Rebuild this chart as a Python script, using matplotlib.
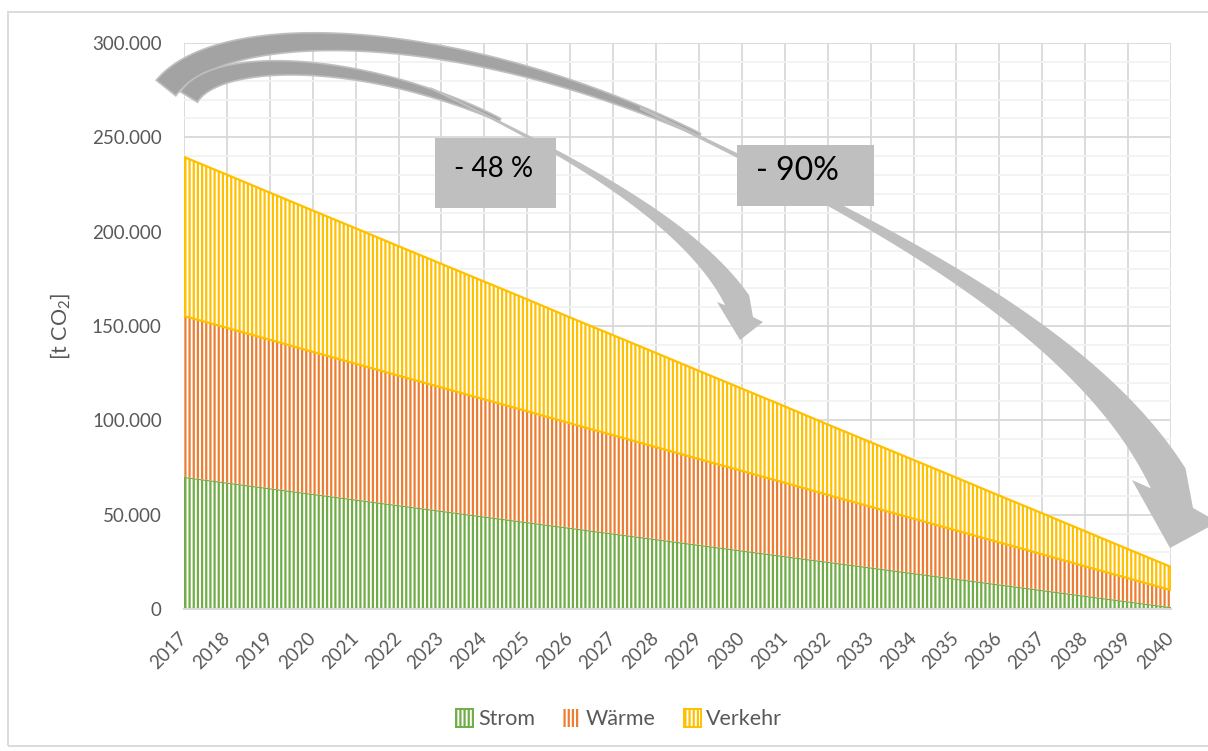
import numpy as np
import matplotlib
matplotlib.use("Agg")
import matplotlib.pyplot as plt
from matplotlib.patches import Polygon, Rectangle, Patch
from matplotlib.ticker import MultipleLocator, FuncFormatter

# CO2 emissions per sector, tonnes per year
years = list(range(2017, 2041))
strom = [70000, 67000, 64000, 61000, 58000, 55000, 52000, 49000, 46000, 43000, 40000, 37000,
         34000, 31000, 28000, 25000, 22000, 19000, 16000, 13000, 10000, 7000, 4000, 1000]
waerme = [85300, 82000, 78700, 75300, 72000, 68700, 65400, 62100, 58800, 55400, 52100, 48800,
          45500, 42200, 38900, 35500, 32200, 28900, 25600, 22300, 19000, 15600, 12300, 9000]
verkehr = [84300, 81200, 78000, 74900, 71800, 68600, 65500, 62400, 59300, 56100, 53000, 49900,
           46700, 43600, 40500, 37300, 34200, 31100, 28000, 24800, 21700, 18600, 15400, 12300]
series_names = ["Strom", "Wärme", "Verkehr"]
colors = ["#70ad47", "#ed7d31", "#ffc000"]
outlined = [True, False, True]

W, H = 1208, 751
plt.rcParams["font.family"] = ["Lato", "DejaVu Sans"]
plt.rcParams["mathtext.default"] = "regular"
plt.rcParams["hatch.linewidth"] = 1.6
grey_txt = "#595959"

fig = plt.figure(figsize=(W / 100, H / 100), dpi=100)
ax = fig.add_axes([184 / W, 1 - 609 / H, (1171 - 184) / W, (609 - 43) / H])

x = np.arange(len(years))
base = np.zeros(len(years))
for vals, name, col, edge in zip([strom, waerme, verkehr], series_names, colors, outlined):
    top = base + np.array(vals)
    ax.fill_between(x, base, top, facecolor="white", edgecolor=col, hatch="||||",
                    linewidth=1.6 if edge else 0, zorder=2)
    base = top

ax.set_xlim(0, len(years) - 1)
ax.set_ylim(0, 300000)
ax.yaxis.set_major_locator(MultipleLocator(50000))
ax.yaxis.set_minor_locator(MultipleLocator(10000))
ax.yaxis.set_major_formatter(FuncFormatter(lambda v, p: f"{v:,.0f}".replace(",", ".")))
ax.set_xticks(x)
ax.set_xticklabels([str(y) for y in years], rotation=45, ha="right", va="center",
                   rotation_mode="anchor")
ax.tick_params(axis="x", length=0, pad=19, labelsize=13.5, labelcolor=grey_txt)
ax.tick_params(axis="y", which="both", length=0, pad=16, labelsize=13.5, labelcolor=grey_txt)
ax.grid(True, which="major", color="#d9d9d9", linewidth=1.3)
ax.grid(True, which="minor", axis="y", color="#f2f2f2", linewidth=1.3)
ax.set_axisbelow(True)
for side in ["top", "left", "right"]:
    ax.spines[side].set_visible(False)
ax.spines["bottom"].set_color("#d9d9d9")
ax.spines["bottom"].set_linewidth(1.5)
ax.set_ylabel("[t CO$_2$]", fontsize=15.5, color=grey_txt, labelpad=14)

handles = [Patch(facecolor="white", edgecolor=c, hatch="||||", linewidth=1.4 if e else 0)
           for c, e in zip(colors, outlined)]
ax.legend(handles, series_names, loc="center", bbox_to_anchor=(619 / W, 1 - 719 / H),
          bbox_transform=fig.transFigure, ncol=3, frameon=False, fontsize=15.5,
          handlelength=0.8, handleheight=0.9, handletextpad=0.25, columnspacing=1.3,
          labelcolor=grey_txt)


# --- curved arrows, built in pixel coordinates (origin top left) ---
def to_fig(xy):
    xy = np.asarray(xy, float)
    return np.column_stack([xy[:, 0] / W, 1 - xy[:, 1] / H])


def bezier_band(ctrl, width_fn, n=160):
    p0, p1, p2, p3 = [np.array(p, float) for p in ctrl]
    t = np.linspace(0, 1, n)[:, None]
    c = ((1 - t) ** 3 * p0 + 3 * (1 - t) ** 2 * t * p1
         + 3 * (1 - t) * t ** 2 * p2 + t ** 3 * p3)
    d = (3 * (1 - t) ** 2 * (p1 - p0) + 6 * (1 - t) * t * (p2 - p1)
         + 3 * t ** 2 * (p3 - p2))
    d /= np.linalg.norm(d, axis=1)[:, None]
    nrm = np.column_stack([-d[:, 1], d[:, 0]])
    w = width_fn(t[:, 0])[:, None]
    return c + nrm * w / 2, c - nrm * w / 2


def curved_arrow(back_ctrl, back_w, front_ctrl, front_w, head):
    left, right = bezier_band(back_ctrl, back_w)
    fig.add_artist(Polygon(to_fig(np.vstack([left, right[::-1]])), closed=True,
                           facecolor="#a3a3a3", edgecolor="#bfbfbf", linewidth=1.2,
                           transform=fig.transFigure, zorder=5))
    left, right = bezier_band(front_ctrl, front_w)
    shape = np.vstack([left, head, right[::-1]])
    fig.add_artist(Polygon(to_fig(shape), closed=True, facecolor="#bfbfbf",
                           edgecolor="none", transform=fig.transFigure, zorder=5))


# large arrow (-90%)
curved_arrow(
    [(166, 88), (220, 20), (450, 20), (700, 135)],
    lambda t: 3 + 22 * (1 - t) ** 0.7,
    [(640, 108), (850, 210), (1080, 320), (1168, 478)],
    lambda t: 3 + 37 * t ** 1.8,
    [(1150, 488), (1132, 480), (1170, 548), (1218, 522), (1193, 508)],
)

# small arrow (-48 %)
curved_arrow(
    [(189, 97), (215, 55), (360, 55), (500, 120)],
    lambda t: 3 + 17 * (1 - t) ** 0.7,
    [(430, 88), (560, 150), (690, 220), (738, 302)],
    lambda t: 2 + 24 * t ** 2,
    [(727, 306), (717, 302), (740, 340), (763, 322), (753, 317)],
)

# label boxes
for (x0, y0, x1, y1), tx, label, size in [((435, 138, 556, 208), 494, "- 48 %", 20),
                                          ((737, 145, 874, 206), 797, "- 90%", 23)]:
    fig.add_artist(Rectangle((x0 / W, 1 - y1 / H), (x1 - x0) / W, (y1 - y0) / H,
                             facecolor="#bfbfbf", edgecolor="none",
                             transform=fig.transFigure, zorder=6))
    fig.text(tx / W, 1 - ((y0 + y1) / 2 - 4) / H, label, fontsize=size,
             ha="center", va="center", color="black", zorder=7)

# chart frame
fig.add_artist(Rectangle((8 / W, 1 - 746 / H), 1210 / W, 734 / H, facecolor="none",
                         edgecolor="#d9d9d9", linewidth=1.3, transform=fig.transFigure))

fig.savefig("out.png", dpi=100)
